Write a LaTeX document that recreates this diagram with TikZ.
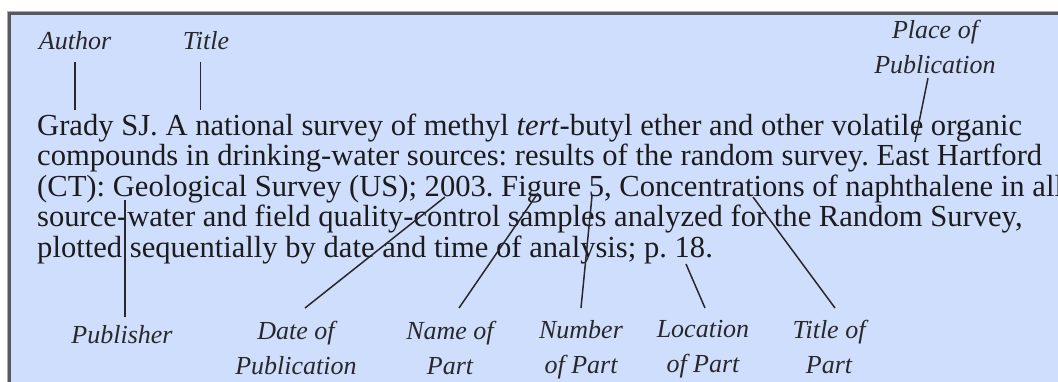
\documentclass[tikz,border=0pt]{standalone}
\usepackage{fontspec}
\setmainfont{Liberation Serif}
\frenchspacing
\definecolor{panel}{RGB}{207,222,252}
\definecolor{bordercol}{RGB}{88,88,88}
\definecolor{bodytext}{RGB}{28,28,28}
\definecolor{lbltext}{RGB}{40,40,40}
\definecolor{conncol}{RGB}{40,40,40}
\begin{document}
\begin{tikzpicture}[x=1pt,y=-1pt,
  body/.style={anchor=base west,inner sep=0pt,text=bodytext,font=\fontsize{30.6}{31}\selectfont},
  lbl/.style={inner sep=0pt,text=lbltext,font=\fontsize{26}{35}\selectfont\itshape,align=center},
  conn/.style={draw=conncol,line width=1.5pt}]
\useasboundingbox (0,0) rectangle (1058,381);
\fill[white] (0,0) rectangle (1058,381);
\fill[panel] (9,13) rectangle (1070,400);
\draw[bordercol!50,line width=1pt] (7,400) -- (7,11) -- (1070,11);
\draw[bordercol,line width=2.6pt] (9.3,400) -- (9.3,13.3) -- (1070,13.3);

% body text
\node[body] (l1) at (37,135) {Grady SJ. A national survey of methyl \textit{tert}-butyl ether and other volatile organic};
\node[body] (l2) at (37,165.5) {compounds in drinking-water sources: results of the random survey. East Hartford};
\node[body] (l3) at (37,196) {(CT): Geological Survey (US); 2003. Figure 5, Concentrations of naphthalene in all};
\node[body] (l4) at (37,226.5) {source-water and field quality-control samples analyzed for the Random Survey,};
\node[body] (l5) at (37,257) {plotted sequentially by date and time of analysis; p. 18.};

% labels
\node[lbl,anchor=base] (author) at (75,49) {Author};
\node[lbl,anchor=base] (title) at (206,49) {Title};
\node[lbl,anchor=north] (place) at (935,20) {Place of\\Publication};
\node[lbl,anchor=base] (publisher) at (122,343) {Publisher};
\node[lbl,anchor=north] (date) at (296,321) {Date of\\Publication};
\node[lbl,anchor=north] (name) at (450,321) {Name of\\Part};
\node[lbl,anchor=north] (number) at (581,320) {Number\\of Part};
\node[lbl,anchor=north] (location) at (703,320) {Location\\of Part};
\node[lbl,anchor=north] (tpart) at (829,320) {Title of\\Part};

% connector end points
\coordinate (a1) at (75,62);   \coordinate (a2) at (75,110);
\coordinate (t1) at (200.5,62); \coordinate (t2) at (200.5,110);
\coordinate (p1) at (928,78);  \coordinate (p2) at (915,142);
\coordinate (u1) at (125,317); \coordinate (u2) at (125,200);
\coordinate (d1) at (305,308); \coordinate (d2) at (445,197);
\coordinate (n1) at (459,308); \coordinate (n2) at (538,193);
\coordinate (m1) at (581,308); \coordinate (m2) at (592,196);
\coordinate (o1) at (705,308); \coordinate (o2) at (686,264);
\coordinate (q1) at (835,308); \coordinate (q2) at (753,197);

\draw[conn] (a1) -- (a2);
\draw[conn] (t1) -- (t2);
\draw[conn] (p1) -- (p2);
\draw[conn] (u1) -- (u2);
\draw[conn] (d1) -- (d2);
\draw[conn] (n1) -- (n2);
\draw[conn] (m1) -- (m2);
\draw[conn] (o1) -- (o2);
\draw[conn] (q1) -- (q2);
\end{tikzpicture}
\end{document}
